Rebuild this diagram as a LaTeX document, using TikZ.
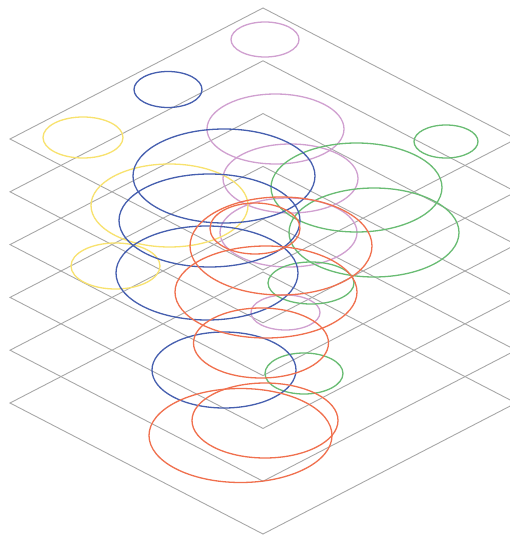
\documentclass[tikz,border=0pt]{standalone}
\definecolor{gridgray}{RGB}{168,168,168}
\definecolor{cpink}{RGB}{208,160,208}
\definecolor{cblue}{RGB}{70,95,175}
\definecolor{cyellow}{RGB}{248,226,110}
\definecolor{cgreen}{RGB}{105,188,115}
\definecolor{corange}{RGB}{240,112,78}
\begin{document}
\begin{tikzpicture}[x=1pt,y=-1pt,
  plane/.style={draw=gridgray,line width=0.9pt,line join=miter},
  ring/.style={line width=1.3pt},
  pinkring/.style={ring,draw=cpink},
  bluering/.style={ring,draw=cblue},
  yellowring/.style={ring,draw=cyellow},
  greenring/.style={ring,draw=cgreen},
  orangering/.style={ring,draw=corange}]
\useasboundingbox (0,0) rectangle (510,537);
\clip (0,0) rectangle (510,537);
\fill[white] (0,0) rectangle (510,537);
% stacked planes
\foreach \k in {0,...,5} {
  \pgfmathsetmacro\t{8+52.8*\k}
  \draw[plane] (263,\t) -- (516,\t+131) -- (263,\t+262) -- (10,\t+131) -- cycle;
}
% pink
\draw[pinkring] (265,39.5) ellipse [x radius=34, y radius=17.5];
\draw[pinkring] (275.5,129) ellipse [x radius=68.5, y radius=35];
\draw[pinkring] (290.5,178.5) ellipse [x radius=67.5, y radius=34.5];
\draw[pinkring] (288.5,232.5) ellipse [x radius=68.5, y radius=34.5];
\draw[pinkring] (285.5,312.5) ellipse [x radius=34.5, y radius=17.5];
% yellow
\draw[yellowring] (83,137.5) ellipse [x radius=40, y radius=20.5];
\draw[yellowring] (169.5,205.5) ellipse [x radius=78.5, y radius=41.5];
\draw[yellowring] (115.5,266) ellipse [x radius=44.5, y radius=23];
% green
\draw[greenring] (446,141.5) ellipse [x radius=32, y radius=16.5];
\draw[greenring] (356.5,187.5) ellipse [x radius=85.5, y radius=44.5];
\draw[greenring] (374,232.5) ellipse [x radius=85, y radius=44.5];
\draw[greenring] (311,283) ellipse [x radius=43, y radius=21];
\draw[greenring] (304,373.5) ellipse [x radius=39, y radius=20.5];
% blue
\draw[bluering] (168,89.5) ellipse [x radius=34, y radius=18];
\draw[bluering] (224,176) ellipse [x radius=91, y radius=47];
\draw[bluering] (209.5,220.5) ellipse [x radius=90.5, y radius=46.5];
\draw[bluering] (207,273) ellipse [x radius=91, y radius=47];
\draw[bluering] (224,370) ellipse [x radius=72, y radius=38];
% orange
\draw[orangering] (255,228.5) ellipse [x radius=45, y radius=25.5];
\draw[orangering] (281,246) ellipse [x radius=91, y radius=49];
\draw[orangering] (266,292) ellipse [x radius=91, y radius=46];
\draw[orangering] (261,343) ellipse [x radius=67.5, y radius=35];
\draw[orangering] (265,420.5) ellipse [x radius=73, y radius=37.5];
\draw[orangering] (240.5,435.5) ellipse [x radius=91.5, y radius=47];
\end{tikzpicture}
\end{document}
